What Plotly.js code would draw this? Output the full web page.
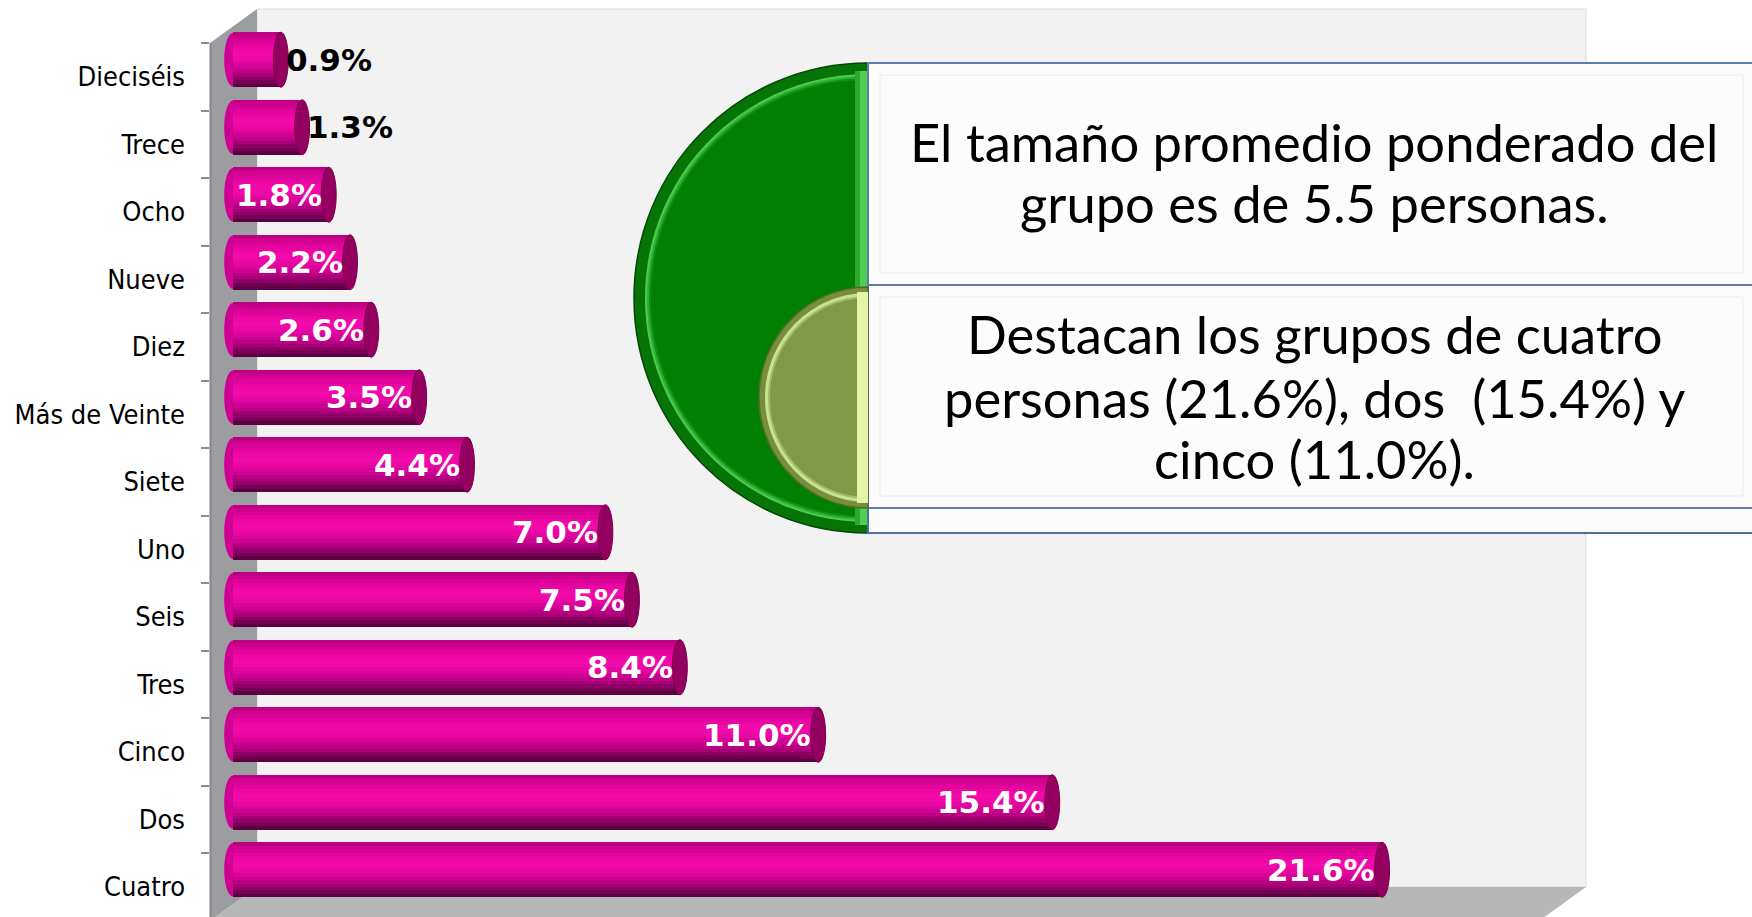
<!DOCTYPE html>
<html>
<head>
<meta charset="utf-8">
<script src="https://cdn.plot.ly/plotly-3.0.1.min.js"></script>
<style>html,body{margin:0;padding:0;background:#fff;}#chart{width:1752px;height:917px;}</style>
</head>
<body>
<div id="chart"></div>
<script>
// ---------------- data ----------------
const categories = ["Dieciséis", "Trece", "Ocho", "Nueve", "Diez", "Más de Veinte", "Siete", "Uno", "Seis", "Tres", "Cinco", "Dos", "Cuatro"];
const percentages = [0.9, 1.3, 1.8, 2.2, 2.6, 3.5, 4.4, 7.0, 7.5, 8.4, 11.0, 15.4, 21.6];
const noteTop = ["El tamaño promedio ponderado del", "grupo es de 5.5 personas."];
const noteBottom = ["Destacan los grupos de cuatro", "personas (21.6%), dos \u00a0(15.4%) y", "cinco (11.0%)."];

// ---------------- geometry helpers ----------------
const W = 1752, H = 917, L = 210, R = 189, T = 26, B = 0;
const PW = W - L - R, PH = H - T - B;
const px = x => (x - L) / PW;
const py = y => (H - B - y) / PH;
const P = (x, y) => px(x) + ',' + py(y);

const catOrder = categories.slice().reverse();      // bottom -> top
const idx = c => catOrder.indexOf(c);
const depthShift = 0.252;   // 3D depth offset of bars (category units)
const barH = 0.815;

// ---------------- colour profile for cylinder shading ----------------
const stops = [[0, [180, 0, 124]], [0.12, [214, 0, 147]], [0.3, [238, 8, 166]], [0.42, [243, 11, 171]],
               [0.55, [228, 6, 160]], [0.7, [194, 0, 138]], [0.85, [140, 0, 100]], [1, [78, 0, 54]]];
function prof(t) {
  for (let i = 1; i < stops.length; i++) {
    if (t <= stops[i][0]) {
      const a = stops[i - 1], b = stops[i];
      const f = (t - a[0]) / (b[0] - a[0]);
      const c = a[1].map((v, j) => Math.round(v + (b[1][j] - v) * f));
      return 'rgb(' + c.join(',') + ')';
    }
  }
  return 'rgb(78,0,54)';
}

const traces = [];
const N = 16;
for (let k = 0; k < N; k++) {
  const t0 = k / N;
  traces.push({
    type: 'bar', orientation: 'h',
    x: percentages, y: categories,
    width: barH * (1 - t0),
    offset: depthShift - barH / 2,
    marker: { color: prof(t0 + 0.5 / N), line: { width: 0 } },
    hoverinfo: 'skip', showlegend: false
  });
}

// ---------------- shapes ----------------
const shapes = [];
// back wall
shapes.push({ type: 'rect', xref: 'paper', yref: 'paper', x0: px(257), x1: px(1586), y0: py(887), y1: py(9),
  fillcolor: '#f2f2f2', line: { color: '#dcdcdc', width: 1 }, layer: 'below' });
// left side wall
shapes.push({ type: 'path', xref: 'paper', yref: 'paper', layer: 'below',
  path: `M ${P(210, 43)} L ${P(257, 9)} L ${P(257, 887)} L ${P(210, 921)} Z`,
  fillcolor: '#9c9da1', line: { width: 0 } });
shapes.push({ type: 'line', xref: 'paper', yref: 'paper', layer: 'below',
  x0: px(210.5), x1: px(210.5), y0: py(43), y1: py(921), line: { color: '#85868a', width: 2 } });
// floor
shapes.push({ type: 'path', xref: 'paper', yref: 'paper', layer: 'below',
  path: `M ${P(257, 887)} L ${P(1586, 887)} L ${P(1539, 921)} L ${P(210, 921)} Z`,
  fillcolor: '#b7b7b7', line: { width: 0 } });

// bar caps (left rounding and right end face)
categories.forEach((c, i) => {
  const yc = idx(c) + depthShift;
  shapes.push({ type: 'circle', xref: 'x', yref: 'y', layer: 'below',
    x0: -0.165, x1: 0.165, y0: yc - barH / 2 + 0.01, y1: yc + barH / 2 - 0.01,
    fillcolor: '#cf0093', line: { width: 0 } });
  shapes.push({ type: 'circle', xref: 'x', yref: 'y',
    x0: percentages[i] - 0.14, x1: percentages[i] + 0.14, y0: yc - barH / 2, y1: yc + barH / 2,
    fillcolor: '#93005f', line: { color: '#7a004e', width: 1 } });
});

// half-ellipse helper (left half)
function halfEllipse(cx, cy, rx, ry) {
  const k = 0.5523;
  return `M ${P(cx, cy - ry)} C ${P(cx - k * rx, cy - ry)} ${P(cx - rx, cy - k * ry)} ${P(cx - rx, cy)} ` +
         `C ${P(cx - rx, cy + k * ry)} ${P(cx - k * rx, cy + ry)} ${P(cx, cy + ry)} Z`;
}
function addHalf(cx, cy, rx, ry, fill, line) {
  shapes.push({ type: 'path', xref: 'paper', yref: 'paper', path: halfEllipse(cx, cy, rx, ry),
    fillcolor: fill, line: line || { width: 0 } });
}
// green semicircle
addHalf(868, 298, 234, 235, '#077407', { color: '#004a00', width: 1.5 });
addHalf(868, 298, 223, 224, '#4ccc4c');
addHalf(868, 298, 221, 222, '#30b030');
addHalf(868, 298, 219, 220, '#139013');
addHalf(868, 298, 217, 218, '#008000');
shapes.push({ type: 'rect', xref: 'paper', yref: 'paper', x0: px(855), x1: px(868), y0: py(525), y1: py(71),
  fillcolor: '#4fcf4f', line: { width: 0 } });
shapes.push({ type: 'rect', xref: 'paper', yref: 'paper', x0: px(855), x1: px(860), y0: py(525), y1: py(71),
  fillcolor: '#30a830', line: { width: 0 } });

// boxes
shapes.push({ type: 'rect', xref: 'paper', yref: 'paper', x0: px(868), x1: px(1762), y0: py(533), y1: py(63),
  fillcolor: '#fbfbfb', line: { color: '#4e6f9f', width: 2 } });
shapes.push({ type: 'rect', xref: 'paper', yref: 'paper', x0: px(868), x1: px(1762), y0: py(285), y1: py(63),
  fillcolor: '#fcfcfc', line: { color: '#5c7cab', width: 2 } });
shapes.push({ type: 'rect', xref: 'paper', yref: 'paper', x0: px(880), x1: px(1743), y0: py(273), y1: py(75),
  fillcolor: 'rgba(0,0,0,0)', line: { color: '#ececec', width: 1 } });
shapes.push({ type: 'rect', xref: 'paper', yref: 'paper', x0: px(868), x1: px(1762), y0: py(508), y1: py(285),
  fillcolor: '#fcfcfc', line: { color: '#5c7cab', width: 2 } });
shapes.push({ type: 'rect', xref: 'paper', yref: 'paper', x0: px(880), x1: px(1743), y0: py(496), y1: py(297),
  fillcolor: 'rgba(0,0,0,0)', line: { color: '#ececec', width: 1 } });

// olive semicircle
addHalf(868, 397.5, 109, 110.5, '#768f3c', { color: '#56692a', width: 1.5 });
addHalf(868, 397.5, 103, 104.5, '#c9e190');
addHalf(868, 397.5, 100, 101.5, '#a2bb66');
addHalf(868, 397.5, 98, 99.5, '#7f9a44');
shapes.push({ type: 'rect', xref: 'paper', yref: 'paper', x0: px(857), x1: px(868), y0: py(503), y1: py(292),
  fillcolor: '#e4f3a8', line: { width: 0 } });

// ---------------- annotations ----------------
const annotations = [];
categories.forEach((c, i) => {
  const v = percentages[i];
  const inside = v >= 1.5;
  annotations.push({
    xref: 'x', yref: 'y', x: v, y: idx(c) + depthShift,
    text: v.toFixed(1) + '%', showarrow: false,
    xanchor: inside ? 'right' : 'left', yanchor: 'middle',
    xshift: inside ? -5 : 3,
    font: { family: 'DejaVu Sans, Verdana, sans-serif', size: 31, weight: 'bold', color: inside ? '#ffffff' : '#000000' }
  });
});
const noteFont = { family: 'Lato, "Noto Sans", sans-serif', size: 52.5, color: '#000000' };
const topY = [142, 203], botY = [333, 397, 458];
noteTop.forEach((t, i) => annotations.push({ xref: 'paper', yref: 'paper', x: px(1314), y: py(topY[i]),
  text: t, showarrow: false, xanchor: 'center', yanchor: 'middle', font: noteFont }));
noteBottom.forEach((t, i) => annotations.push({ xref: 'paper', yref: 'paper', x: px(1314), y: py(botY[i]),
  text: t, showarrow: false, xanchor: 'center', yanchor: 'middle', font: noteFont }));

const layout = {
  width: W, height: H,
  margin: { l: L, r: R, t: T, b: B, pad: 0 },
  paper_bgcolor: '#ffffff', plot_bgcolor: 'rgba(0,0,0,0)',
  barmode: 'overlay', bargap: 0,
  showlegend: false,
  xaxis: { range: [-0.432, 25], showgrid: false, zeroline: false, showticklabels: false, ticks: '', showline: false, fixedrange: true },
  yaxis: { type: 'category', categoryorder: 'array', categoryarray: catOrder,
    range: [-0.448, 12.752], showgrid: false, zeroline: false, showline: false,
    ticks: 'outside', ticklen: 8, tickwidth: 2, tickcolor: '#8c8c8c', tickson: 'boundaries',
    ticklabelstandoff: 24,
    tickfont: { family: '"DejaVu Sans Condensed", "Noto Sans", sans-serif', size: 27, color: '#000000' },
    fixedrange: true },
  shapes: shapes,
  annotations: annotations
};

Plotly.newPlot('chart', traces, layout, { displayModeBar: false, staticPlot: true });
</script>
</body>
</html>
